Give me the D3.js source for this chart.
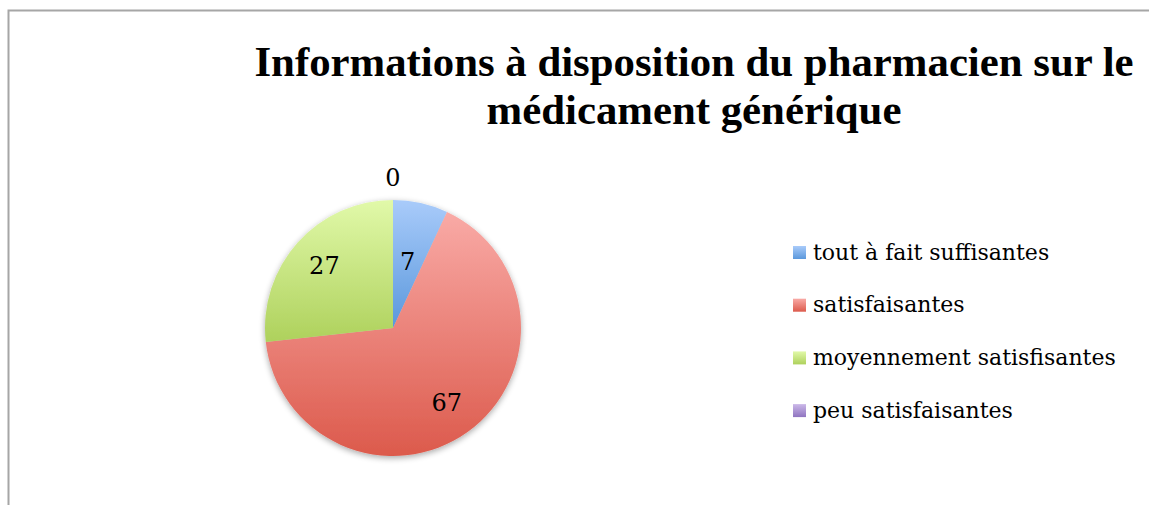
<!DOCTYPE html>
<html><head><meta charset="utf-8">
<script src="https://cdn.jsdelivr.net/npm/d3@7"></script>
<style>
html,body{margin:0;padding:0;background:#fff;}
svg{display:block;}
</style></head>
<body>
<script>
const categories = ["tout à fait suffisantes", "satisfaisantes", "moyennement satisfisantes", "peu satisfaisantes"];
const values = [7, 67, 27, 0];
const titleLines = ["Informations à disposition du pharmacien sur le", "médicament générique"];
const colorsTop = ["#a9cbfa", "#f9aaa6", "#e1f9a9", "#cbb8e8"];
const colorsBottom = ["#5a98dc", "#dc5a4c", "#aed15c", "#8f74c0"];

const W = 1149, H = 505;
const svg = d3.select("body").append("svg").attr("width", W).attr("height", H);
const defs = svg.append("defs");

categories.forEach((c, i) => {
  const g = defs.append("linearGradient").attr("id", "grad" + i)
    .attr("x1", 0).attr("y1", 0).attr("x2", 0).attr("y2", 1);
  g.append("stop").attr("offset", "0%").attr("stop-color", colorsTop[i]);
  g.append("stop").attr("offset", "100%").attr("stop-color", colorsBottom[i]);
});
const f = defs.append("filter").attr("id", "shadow").attr("x", "-20%").attr("y", "-20%").attr("width", "140%").attr("height", "140%");
f.append("feGaussianBlur").attr("in", "SourceAlpha").attr("stdDeviation", 3).attr("result", "b");
f.append("feOffset").attr("in", "b").attr("dx", 0).attr("dy", 2).attr("result", "o");
f.append("feComponentTransfer").attr("in", "o").attr("result", "o2")
  .append("feFuncA").attr("type", "linear").attr("slope", 0.35);
const fm = f.append("feMerge");
fm.append("feMergeNode").attr("in", "o2");
fm.append("feMergeNode").attr("in", "SourceGraphic");

// frame
svg.append("path").attr("d", `M8.5,${H + 5} V10.5 H${W + 5}`).attr("fill", "none").attr("stroke", "#a6a6a6").attr("stroke-width", 2);

// title
const title = svg.append("text").attr("x", 694).attr("text-anchor", "middle")
  .attr("font-family", "'Liberation Serif', 'Times New Roman', serif").attr("font-weight", "bold")
  .attr("font-size", 42.8).attr("fill", "#000");
titleLines.forEach((t, i) => title.append("tspan").attr("x", 694).attr("y", 76 + i * 48).text(t));

// pie
const cx = 393, cy = 328, R = 128;
const pie = d3.pie().sort(null).value(d => d)(values);
const arc = d3.arc().innerRadius(0).outerRadius(R);
const g = svg.append("g").attr("transform", `translate(${cx},${cy})`);
g.append("g").attr("filter", "url(#shadow)").selectAll("path").data(pie).join("path")
  .attr("d", arc).attr("fill", (d, i) => `url(#grad${i})`);

g.selectAll("text.lbl").data(pie).join("text").attr("class", "lbl")
  .attr("font-family", "'DejaVu Serif', serif").attr("font-size", 24).attr("fill", "#000")
  .attr("text-anchor", "middle").attr("dominant-baseline", "central")
  .attr("transform", d => {
    const span = d.endAngle - d.startAngle;
    let r = span === 0 ? R + 22 : (span < 0.6 ? R * 0.53 : R * 0.72);
    const a = (d.startAngle + d.endAngle) / 2;
    return `translate(${Math.sin(a) * r},${-Math.cos(a) * r})`;
  })
  .text(d => d.data);

// legend
const lg = svg.append("g");
const rows = lg.selectAll("g").data(categories).join("g")
  .attr("transform", (d, i) => `translate(793,${252 + i * 52.7})`);
rows.append("rect").attr("x", 0).attr("y", -6).attr("width", 13).attr("height", 13)
  .attr("fill", (d, i) => `url(#grad${i})`);
rows.append("text").attr("x", 20).attr("y", 0).attr("dominant-baseline", "central")
  .attr("font-family", "'DejaVu Serif', serif").attr("font-size", 22).attr("fill", "#000")
  .text(d => d);
</script>
</body></html>
